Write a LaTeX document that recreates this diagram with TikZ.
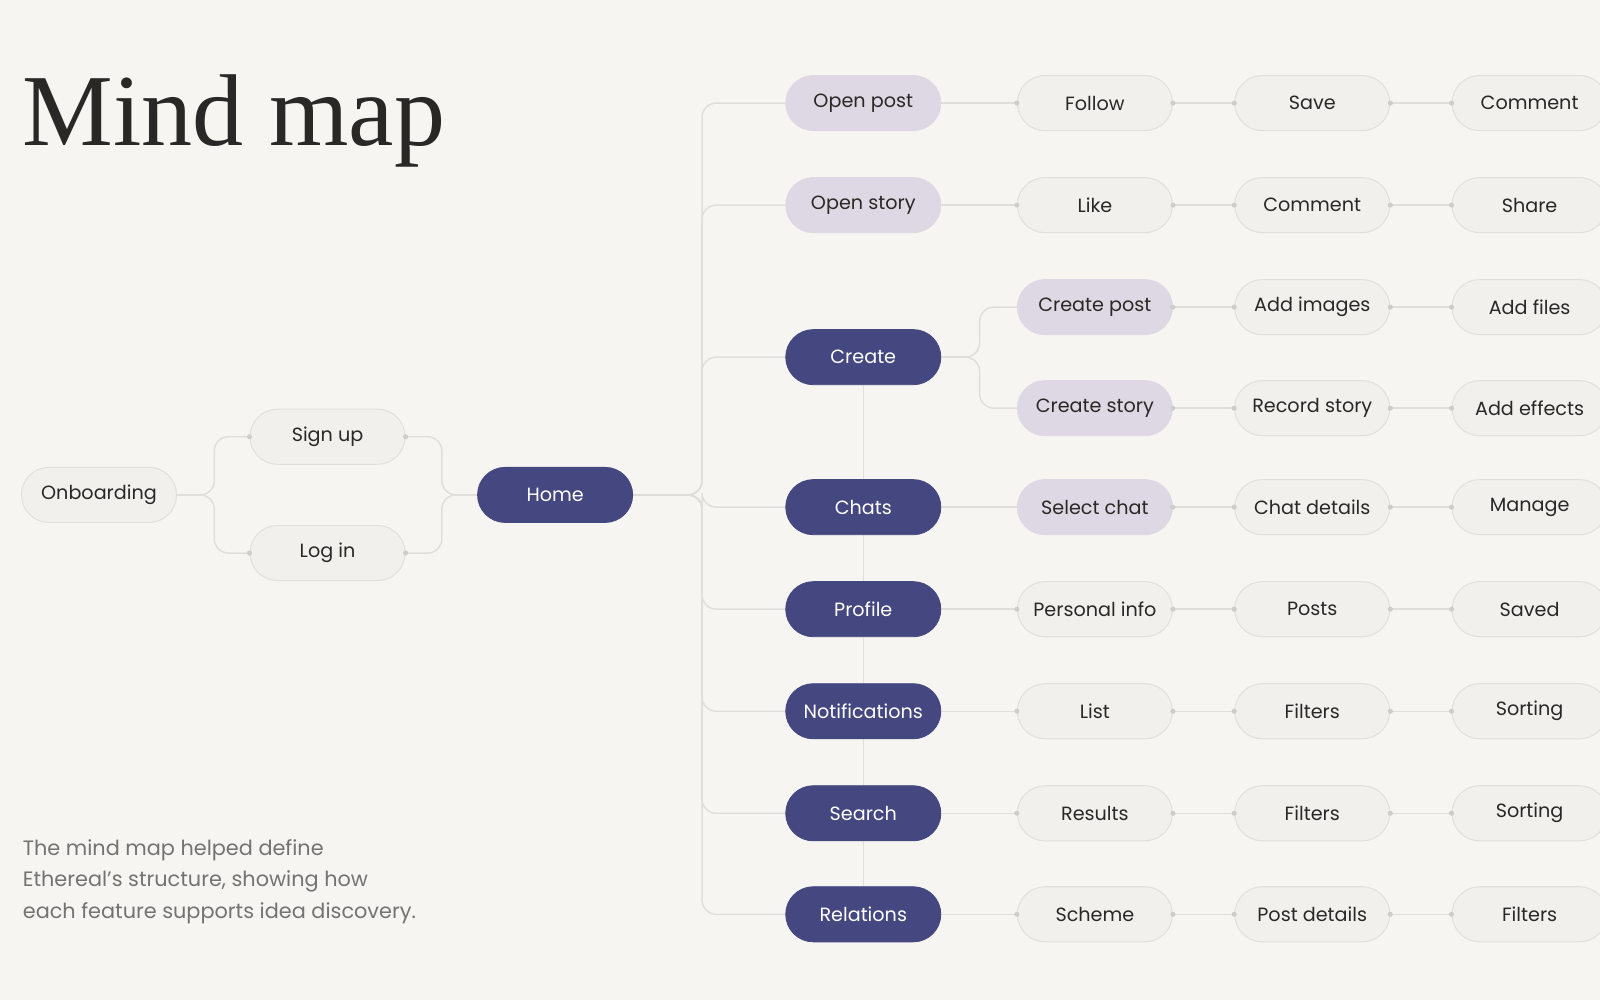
\documentclass[tikz,border=0pt]{standalone}
\usepackage{fontspec}
\setmainfont{Poppins}
\newfontfamily\titlefont{Liberation Serif}
\usetikzlibrary{backgrounds}
\definecolor{paper}{HTML}{F6F5F1}
\definecolor{pillfill}{HTML}{F1F0EC}
\definecolor{pillline}{HTML}{E2E0DB}
\definecolor{lavender}{HTML}{DDD8E3}
\definecolor{indigo}{HTML}{454780}
\definecolor{wire}{HTML}{E0DED9}
\definecolor{ink}{HTML}{2A2826}
\tikzset{
    base/.style = {rectangle, rounded corners=13.5pt, minimum width=76pt, minimum height=27pt, inner sep=0pt, font=\fontsize{9.4}{11}\selectfont},
    pill/.style = {base, fill=pillfill, draw=pillline, line width=0.5pt, text=ink},
    soft/.style = {base, fill=lavender, draw=lavender, text=ink},
    dark/.style = {base, fill=indigo, draw=indigo, text=white},
    link/.style = {draw=wire, line width=0.7pt, rounded corners=7pt},
    dot/.style = {circle, fill=pillline!80!gray, inner sep=0pt, minimum size=2.5pt}
}
\begin{document}
\begin{tikzpicture}[x=0.5pt, y=-0.5pt]
    \useasboundingbox (0,0) rectangle (1568,980);

    \node [anchor=base west, inner sep=0pt, text=ink, font=\titlefont\fontsize{50}{56}\selectfont] (title) at (22,143) {Mind map};
    \node [anchor=north west, inner sep=0pt, align=left, text=ink!65, font=\fontsize{10.2}{15.5}\selectfont] (note) at (22,822)
        {The mind map helped define\\Ethereal’s structure, showing how\\each feature supports idea discovery.};

    % left part
    \node [pill] (onboarding) at (97,485) {Onboarding};
    \node [pill] (signup) at (321,428) {Sign up};
    \node [pill] (login) at (321,542) {Log in};
    \node [dark] (home) at (544,485) {Home};

    % second column
    \foreach \n/\y/\t/\s in {open/101/Open post/soft, story/201/Open story/soft, create/350/Create/dark,
        chats/497/Chats/dark, profile/597/Profile/dark, notif/697/Notifications/dark,
        search/797/Search/dark, relations/896/Relations/dark}
        \node [\s] (\n) at (846,\y) {\t};

    % branches
    \foreach \r/\y/\a/\sa/\b/\c in {open/101/Follow/pill/Save/Comment, story/201/Like/pill/Comment/Share,
        cpost/301/Create post/soft/Add images/Add files, cstory/400/Create story/soft/Record story/Add effects,
        chats/497/Select chat/soft/Chat details/Manage, profile/597/Personal info/pill/Posts/Saved,
        notif/697/List/pill/Filters/Sorting, search/797/Results/pill/Filters/Sorting,
        relations/896/Scheme/pill/Post details/Filters}
    {
        \node [\sa] (\r-a) at (1073,\y) {\a};
        \node [pill] (\r-b) at (1286,\y) {\b};
        \node [pill] (\r-c) at (1499,\y) {\c};
    }

    \begin{scope}[on background layer]
        \fill [paper] (0,0) rectangle (1568,980);
        \coordinate (split) at (210,485);
        \coordinate (join) at (433,485);
        \coordinate (trunk) at (688,485);
        \coordinate (fork) at (960,350);
        \draw [link] (onboarding.east) -| (split |- signup) -- (signup.west);
        \draw [link] (onboarding.east) -| (split |- login) -- (login.west);
        \draw [link] (signup.east) -| (join) -- (home.west);
        \draw [link] (login.east) -| (join) -- (home.west);
        \foreach \n in {open, story, create, chats, profile, notif, search, relations}
            \draw [link] (home.east) -| (trunk |- \n) -- (\n.west);
        \draw [link] (create) -- (relations);
        \draw [link] (create.east) -| (fork |- cpost-a) -- (cpost-a.west);
        \draw [link] (create.east) -| (fork |- cstory-a) -- (cstory-a.west);
        \foreach \r in {open, story, chats, profile, notif, search, relations}
            \draw [link] (\r.east) -- (\r-a.west);
        \foreach \r in {open, story, cpost, cstory, chats, profile, notif, search, relations}
            \draw [link] (\r-a.east) -- (\r-b.west) (\r-b.east) -- (\r-c.west);
    \end{scope}

    % dots on the light ends
    \foreach \p in {signup.west, signup.east, login.west, login.east}
        \node [dot] at (\p) {};
    \foreach \r in {open, story, profile, notif, search, relations}
        \node [dot] at (\r-a.west) {};
    \foreach \r in {open, story, cpost, cstory, chats, profile, notif, search, relations}
        \foreach \p in {a.east, b.west, b.east, c.west}
            \node [dot] at (\r-\p) {};
\end{tikzpicture}
\end{document}
